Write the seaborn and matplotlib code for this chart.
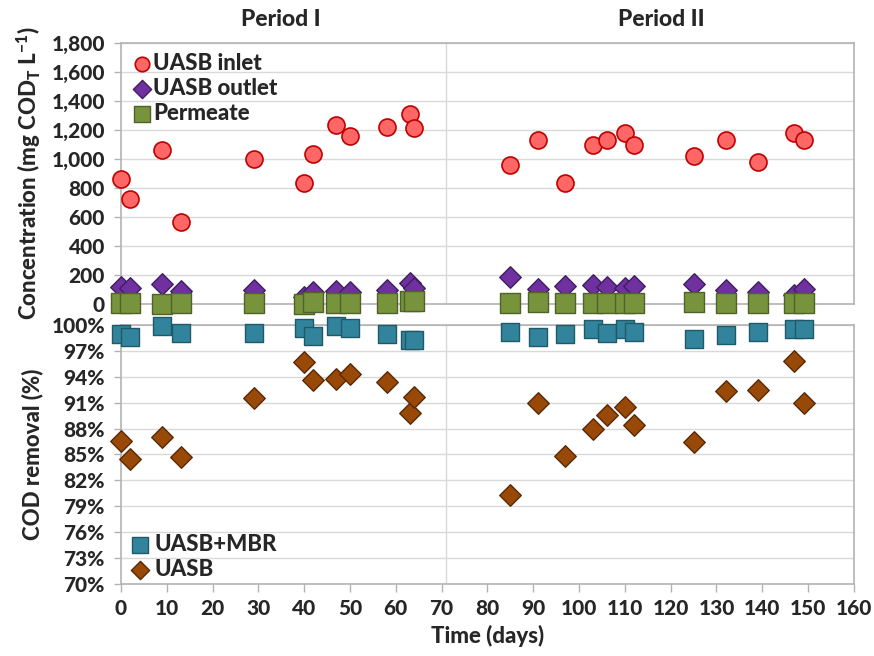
import matplotlib
matplotlib.use("Agg")
import matplotlib.pyplot as plt
import seaborn as sns
import pandas as pd
from matplotlib.ticker import FuncFormatter, MultipleLocator

sns.set_theme(style="white")
plt.rcParams['font.family'] = ['Lato', 'DejaVu Sans']
W = 900
plt.rcParams['font.weight'] = W
plt.rcParams['mathtext.fontset'] = 'custom'
plt.rcParams['mathtext.bf'] = 'Lato:black'

days = [0, 2, 9, 13, 29, 40, 42, 47, 50, 58, 63, 64,
        85, 91, 97, 103, 106, 110, 112, 125, 132, 139, 147, 149]
uasb_inlet = [860, 726, 1060, 568, 1000, 832, 1032, 1234, 1161, 1223, 1310, 1212,
              959, 1131, 837, 1097, 1131, 1177, 1097, 1023, 1131, 977, 1177, 1131]
uasb_outlet = [120, 113, 138, 92, 97, 45, 85, 92, 85, 97, 143, 108,
               189, 101, 126, 131, 120, 108, 126, 138, 97, 85, 62, 101]
permeate = [5, 10, 3, 8, 10, 3, 12, 5, 8, 10, 18, 20,
            5, 12, 8, 5, 10, 5, 8, 12, 10, 5, 5, 8]
removal_mbr = [98.9, 98.6, 99.9, 99.1, 99.1, 99.6, 98.7, 99.9, 99.7, 99.0, 98.3, 98.3,
               99.2, 98.6, 98.9, 99.5, 99.1, 99.5, 99.2, 98.4, 98.8, 99.2, 99.5, 99.5]
removal_uasb = [86.6, 84.5, 87.0, 84.7, 91.5, 95.7, 93.6, 93.8, 94.3, 93.4, 89.8, 91.6,
                80.3, 91.0, 84.8, 87.9, 89.6, 90.5, 88.4, 86.5, 92.3, 92.5, 95.8, 91.0]
periods = ["Period I", "Period II"]
period_x = [35, 118]
period_split = 71

df = pd.DataFrame({"day": days, "inlet": uasb_inlet, "outlet": uasb_outlet,
                   "perm": permeate, "mbr": removal_mbr, "uasb": removal_uasb})

fig = plt.figure(figsize=(8.74, 6.56), dpi=100)
ax1 = fig.add_axes([0.1384, 0.5366, 0.8386, 0.3979])
ax2 = fig.add_axes([0.1384, 0.1098, 0.8386, 0.3948])

grid_c = "#d9d9d9"
spine_c = "#b3b3b3"
fs = 15
lab_fs = 16
leg_fs = 16

sns.scatterplot(data=df, x="day", y="inlet", ax=ax1, marker="o", s=150,
                color="#ff6666", edgecolor="#c00000", linewidth=1.2,
                label="UASB inlet", clip_on=False, zorder=3)
sns.scatterplot(data=df, x="day", y="outlet", ax=ax1, marker="D", s=120,
                color="#7030a0", edgecolor="#3f1f5f", linewidth=1.0,
                label="UASB outlet", clip_on=False, zorder=3)
sns.scatterplot(data=df, x="day", y="perm", ax=ax1, marker="s", s=190,
                color="#77933c", edgecolor="#4f6228", linewidth=1.0,
                label="Permeate", clip_on=False, zorder=4)

sns.scatterplot(data=df, x="day", y="mbr", ax=ax2, marker="s", s=170,
                color="#31849b", edgecolor="#215968", linewidth=1.0,
                label="UASB+MBR", clip_on=False, zorder=3)
sns.scatterplot(data=df, x="day", y="uasb", ax=ax2, marker="D", s=120,
                color="#984807", edgecolor="#5a2a05", linewidth=1.0,
                label="UASB", clip_on=False, zorder=3)

for ax in (ax1, ax2):
    ax.set_xlim(0, 160)
    ax.xaxis.set_major_locator(MultipleLocator(10))
    ax.grid(axis="y", color=grid_c, linewidth=1)
    ax.set_axisbelow(True)
    ax.axvline(period_split, color=grid_c, linewidth=1, zorder=0)
    for s in ax.spines.values():
        s.set_color(spine_c)
        s.set_linewidth(1.2)
    ax.tick_params(axis="y", which="both", left=True, length=5, color=spine_c,
                   labelsize=fs, width=1, pad=6.5)

ax1.set_ylim(0, 1800)
ax1.yaxis.set_major_locator(MultipleLocator(200))
ax1.yaxis.set_major_formatter(FuncFormatter(lambda v, p: f"{int(v):,}"))
ax1.tick_params(axis="x", bottom=False, labelbottom=False)
ax1.set_xlabel("")
ax1.set_ylabel(r"Concentration (mg COD$_\mathbf{T}$ L$^{\mathbf{-1}}$)",
               fontsize=lab_fs, fontweight=W, labelpad=6)

ax2.set_ylim(70, 100)
ax2.set_yticks([70, 73, 76, 79, 82, 85, 88, 91, 94, 97, 100])
ax2.yaxis.set_major_formatter(FuncFormatter(lambda v, p: f"{int(round(v))}%"))
ax2.tick_params(axis="x", bottom=True, length=6, color=spine_c, labelsize=fs,
                width=1, pad=5)
ax2.set_xlabel("Time (days)", fontsize=lab_fs, fontweight=W, labelpad=5)
ax2.set_ylabel("COD removal (%)", fontsize=lab_fs, fontweight=W, labelpad=6)
for lbl in ax2.get_xticklabels() + ax2.get_yticklabels() + ax1.get_yticklabels():
    lbl.set_fontweight(W)
    lbl.set_fontsize(fs)

fig.align_ylabels([ax1, ax2])

leg1 = ax1.legend(loc="upper left", frameon=False, handletextpad=0.0,
                  borderaxespad=0.15, labelspacing=0.18, handlelength=1.0,
                  markerscale=0.85, borderpad=0.3,
                  prop={"weight": W, "size": leg_fs})
leg2 = ax2.legend(loc="lower left", frameon=False, handletextpad=0.0,
                  borderaxespad=0.0, labelspacing=0.18, handlelength=1.3,
                  markerscale=0.85, borderpad=0.2,
                  prop={"weight": W, "size": leg_fs})

for name, xv in zip(periods, period_x):
    ax1.text(xv, 1.05, name, transform=ax1.get_xaxis_transform(), ha="center",
             va="bottom", fontsize=16.5, fontweight=W)

fig.savefig("out.png", dpi=100)
